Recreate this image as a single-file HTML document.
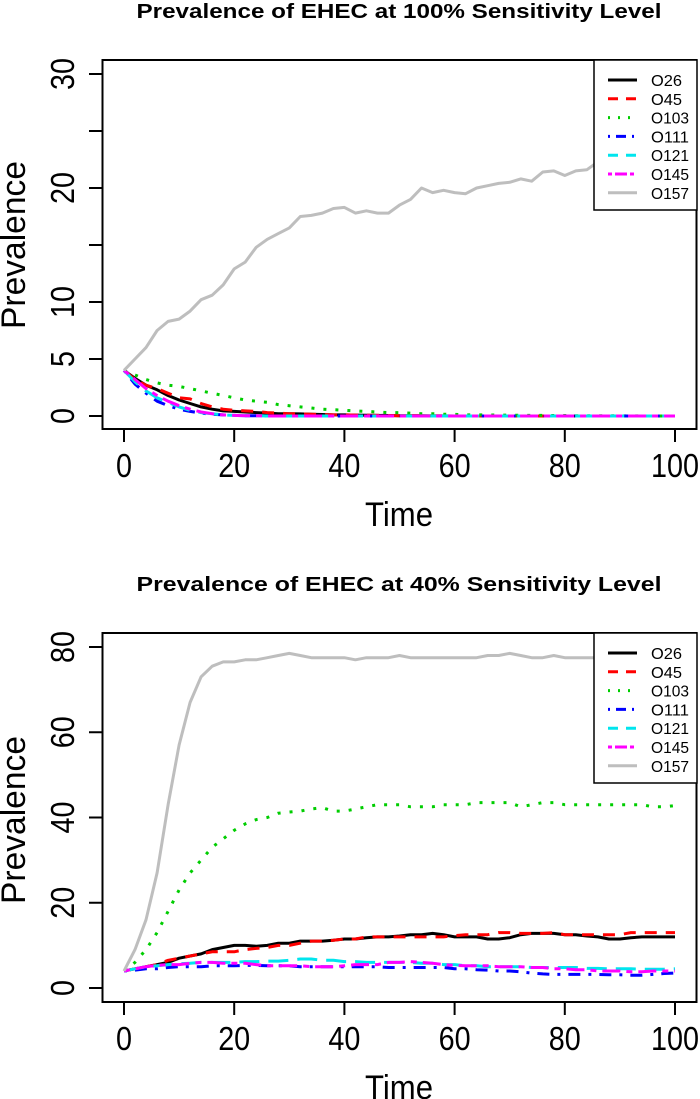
<!DOCTYPE html>
<html><head><meta charset="utf-8"><style>
html,body{margin:0;padding:0;background:#fff;}
svg{display:block;font-family:"Liberation Sans",Arial,sans-serif;}
</style></head><body>
<svg id="chart" width="700" height="1099" viewBox="0 0 700 1099" xmlns="http://www.w3.org/2000/svg"></svg>
<script>
const times = [0,2,4,6,8,10,12,14,16,18,20,22,24,26,28,30,32,34,36,38,40,42,44,46,48,50,52,54,56,58,60,62,64,66,68,70,72,74,76,78,80,82,84,86,88,90,92,94,96,98,100];
const seriesNames = ["O26","O45","O103","O111","O121","O145","O157"];
const xTicks = [0,20,40,60,80,100];
const topYTicks = [0,5,10,15,20,25,30];
const topYLabels = [0,5,10,20,30];
const botYTicks = [0,20,40,60,80];
const botYLabels = [0,20,40,60,80];

const top_O26 = [4,3.3,2.7,2.3,1.8,1.4,1.1,0.8,0.6,0.45,0.4,0.35,0.3,0.25,0.2,0.2,0.18,0.15,0.13,0.1,0.1,0.08,0.06,0.05,0.04,0.03,0.02,0.02,0.01,0.01,0,0,0,0,0,0,0,0,0,0,0,0,0,0,0,0,0,0,0,0,0];
const top_O45 = [4,3.2,2.7,2.4,2,1.6,1.5,1.1,0.8,0.6,0.5,0.45,0.4,0.3,0.25,0.2,0.18,0.15,0.13,0.1,0.1,0.08,0.06,0.05,0.04,0.03,0.02,0.02,0.01,0.01,0,0,0,0,0,0,0,0,0,0,0,0,0,0,0,0,0,0,0,0,0];
const top_O103 = [4,3.6,3.2,2.9,2.7,2.6,2.4,2.2,2,1.8,1.6,1.4,1.3,1.2,1,0.9,0.8,0.7,0.6,0.55,0.5,0.45,0.4,0.35,0.3,0.3,0.25,0.2,0.2,0.15,0.15,0.1,0.1,0.1,0.08,0.08,0.06,0.05,0.05,0.04,0.04,0.03,0.03,0.02,0.02,0.02,0.01,0.01,0,0,0];
const top_O111 = [4,2.8,2,1.3,0.9,0.6,0.4,0.25,0.15,0.1,0.05,0.03,0.02,0,0,0,0,0,0,0,0,0,0,0,0,0,0,0,0,0,0,0,0,0,0,0,0,0,0,0,0,0,0,0,0,0,0,0,0,0,0];
const top_O121 = [4,3,2.2,1.6,1.2,0.8,0.5,0.3,0.2,0.1,0.05,0.03,0.02,0,0,0,0,0,0,0,0,0,0,0,0,0,0,0,0,0,0,0,0,0,0,0,0,0,0,0,0,0,0,0,0,0,0,0,0,0,0];
const top_O145 = [4,3.2,2.4,1.8,1.3,0.9,0.6,0.35,0.2,0.1,0.05,0.03,0.02,0,0,0,0,0,0,0,0,0,0,0,0,0,0,0,0,0,0,0,0,0,0,0,0,0,0,0,0,0,0,0,0,0,0,0,0,0,0];
const top_O157 = [4,5,6,7.5,8.3,8.5,9.2,10.2,10.6,11.5,12.9,13.5,14.8,15.5,16,16.5,17.5,17.6,17.8,18.2,18.3,17.8,18,17.8,17.8,18.5,19,20,19.6,19.8,19.6,19.5,20,20.2,20.4,20.5,20.8,20.6,21.4,21.5,21.1,21.5,21.6,22.3,22,21.6,21.8,21.6,21.5,22,22.4];

const bot_O26 = [4,4.5,5,5.5,6,7,7.5,8,9,9.5,10,10,9.8,10,10.5,10.5,11,11,11,11.2,11.5,11.5,11.8,12,12,12.2,12.5,12.5,12.8,12.5,12,12,12,11.5,11.5,11.8,12.5,12.8,12.8,12.8,12.5,12.5,12.2,12,11.5,11.5,11.8,12,12,12,12];
const bot_O45 = [4,4.5,5,5.5,6.5,7,7.5,8,8.5,8.5,8.5,9,9.3,9.5,10,10,10.5,11,11,11.2,11.5,11.5,12,12,12,12,12,12,12,12,12.3,12.5,12.5,12.5,13,13,12.8,12.8,12.8,13,12.5,12.5,12.5,12.5,12.5,12.5,13,13,13,13,13];
const bot_O103 = [4,6,9,13,18,23,27,30,33,35,37,38.5,39.5,40,41,41.3,41.5,42,42.3,41.5,41.5,42,42.5,43,43,43,42.5,42.5,42.5,43,43,43,43.5,43.5,43.5,43.5,42.5,43,43.5,43.5,43,43,43,43,43,43,43,43,42.5,42.5,42.8];
const bot_O111 = [4,4.2,4.5,4.5,4.8,5,5,5,5.2,5.2,5.2,5.3,5.3,5.2,5.2,5.2,5,5,5,5,5,5,5,5,4.8,4.8,4.8,4.8,4.8,4.8,4.5,4.5,4.3,4.2,4,4,3.8,3.5,3.3,3.2,3.2,3.2,3.2,3.2,3.1,3.1,3,3,3.2,3.4,3.5];
const bot_O121 = [4,4.5,5,5.2,5.5,5.7,5.8,6,6,6,6,6.2,6.2,6.3,6.3,6.5,6.8,6.8,6.5,6.5,6.2,6.2,6,6,6,6,6,5.8,5.8,5.5,5.5,5.2,5.2,5,5,5,5,4.8,4.8,4.8,4.8,4.8,4.6,4.6,4.5,4.5,4.5,4.4,4.4,4.4,4.5];
const bot_O145 = [4,4.5,5,5.3,5.5,5.5,5.8,6,6,5.8,5.8,5.8,5.5,5.2,5.2,5.2,5.2,5,5,5,5.2,5.5,5.5,5.5,6,6,6.2,6,5.8,5.5,5.3,5.2,5.2,5.2,5,5,5,4.8,4.8,4.5,4.5,4.3,4.3,4,4,4,3.8,3.8,4,4,4];
const bot_O157 = [4,9,16,27,43,57,67,73,75.5,76.5,76.5,77,77,77.5,78,78.5,78,77.5,77.5,77.5,77.5,77,77.5,77.5,77.5,78,77.5,77.5,77.5,77.5,77.5,77.5,77.5,78,78,78.5,78,77.5,77.5,78,77.5,77.5,77.5,77.5,77,78,77.5,77.5,77.5,77.5,77.5];

const colors = ["#000000","#ff0000","#00cd00","#0000ff","#00e5ee","#ff00ff","#bebebe"];
const dashes = ["", "12,9", "3,9", "3,8,12,8", "20,9", "6,6,18,6", ""];
const NS = "http://www.w3.org/2000/svg";
const svg = document.getElementById("chart");
function mk(tag, attrs, parent){const e=document.createElementNS(NS,tag);for(const k in attrs)e.setAttribute(k,attrs[k]);(parent||svg).appendChild(e);return e;}

function panel(cfg){
  const g = mk("g",{});
  
  
  const x0=124,x1=675;
  const sx = v => x0 + (v/100)*(x1-x0);
  const sy = v => cfg.y0 + (v/cfg.ymax)*(cfg.yTop-cfg.y0);
  const title = mk("text",{x:399,y:cfg.titleY,"text-anchor":"middle","font-size":20,"font-weight":"bold",textLength:525,lengthAdjust:"spacingAndGlyphs"},g);
  title.textContent = cfg.title;
  
  
  cfg.data.forEach((arr,i)=>{
    const d = arr.map((v,j)=>(j?"L":"M")+sx(times[j]).toFixed(1)+","+sy(v).toFixed(1)).join("");
    const p = mk("path",{d:d,fill:"none",stroke:colors[i],"stroke-width":3,"stroke-linejoin":"round"},g);
    if(dashes[i]) p.setAttribute("stroke-dasharray",dashes[i]);
    
    
  });
  const box = mk("rect",{x:102.5,y:cfg.boxTop,width:594,height:cfg.boxBot-cfg.boxTop,fill:"none",stroke:"#000","stroke-width":2},g);
  
  
  xTicks.forEach(t=>{
    mk("line",{x1:sx(t),x2:sx(t),y1:cfg.boxBot,y2:cfg.boxBot+13,stroke:"#000","stroke-width":2},g);
    const s = String(t);
    const tx = mk("text",{x:sx(t),y:cfg.boxBot+48,"text-anchor":"middle","font-size":33,textLength:16*s.length,lengthAdjust:"spacingAndGlyphs"},g);
    tx.textContent = s;
    
    
  });
  cfg.yTicks.forEach(t=>{
    mk("line",{x1:89,x2:102,y1:sy(t),y2:sy(t),stroke:"#000","stroke-width":2},g);
  });
  cfg.yLabels.forEach(t=>{
    const s = String(t);
    const ty = mk("text",{x:0,y:0,"text-anchor":"middle","font-size":33,textLength:16*s.length,lengthAdjust:"spacingAndGlyphs",transform:"translate(74,"+sy(t)+") rotate(-90)"},g);
    ty.textContent = s;
    
    
  });
  const xt = mk("text",{x:399,y:cfg.boxBot+97,"text-anchor":"middle","font-size":34,textLength:68,lengthAdjust:"spacingAndGlyphs"},g);
  xt.textContent="Time";
  
  
  const yt = mk("text",{x:0,y:0,"text-anchor":"middle","font-size":34,textLength:168,lengthAdjust:"spacingAndGlyphs",transform:"translate(25,"+cfg.yLabelY+") rotate(-90)"},g);
  yt.textContent="Prevalence";
  
  
  const lg = mk("g",{},g);
  
  
  mk("rect",{x:594,y:cfg.boxTop,width:103,height:150,fill:"#fff",stroke:"#000","stroke-width":1.5},lg);
  seriesNames.forEach((n,i)=>{
    const y = cfg.boxTop+20+i*18.8;
    const l = mk("line",{x1:608,x2:637,y1:y,y2:y,stroke:colors[i],"stroke-width":3},lg);
    if(dashes[i]) l.setAttribute("stroke-dasharray", i==2?"2,8":(i==3?"2,6,10,6":(i==5?"4,3,12,3":"10,8")));
    
    
    const t = mk("text",{x:651,y:y+6,"font-size":16,textLength:n.length==3?31:38,lengthAdjust:"spacingAndGlyphs"},lg);
    t.textContent = n;
    
    
  });
}

panel({name:"top-chart-100pct",title:"Prevalence of EHEC at 100% Sensitivity Level",titleY:18,boxTop:60,boxBot:429,y0:416,yTop:74,ymax:30,yTicks:topYTicks,yLabels:topYLabels,yLabelY:245,
  data:[top_O26,top_O45,top_O103,top_O111,top_O121,top_O145,top_O157]});
panel({name:"bottom-chart-40pct",title:"Prevalence of EHEC at 40% Sensitivity Level",titleY:591,boxTop:633,boxBot:1002,y0:988,yTop:647,ymax:80,yTicks:botYTicks,yLabels:botYLabels,yLabelY:820,
  data:[bot_O26,bot_O45,bot_O103,bot_O111,bot_O121,bot_O145,bot_O157]});
</script>
</body></html>
